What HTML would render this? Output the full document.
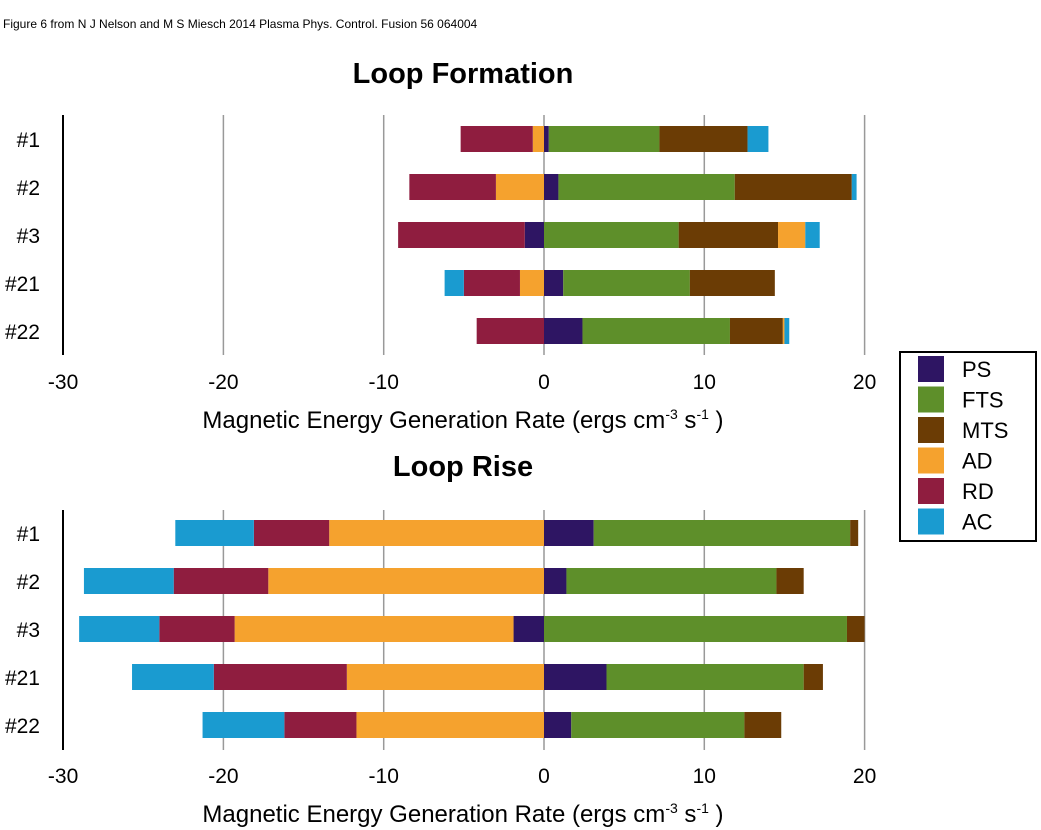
<!DOCTYPE html>
<html><head><meta charset="utf-8"><style>
body{margin:0;background:#fff;width:1041px;height:830px;overflow:hidden;font-family:"Liberation Sans",sans-serif}
</style></head><body>
<svg id="c" width="1041" height="830" style="position:absolute;left:0;top:0"></svg>
<script>
const rows=["#1","#2","#3","#21","#22"];
const series=["PS","FTS","MTS","AD","RD","AC"];
const colors=["#2e1563","#5e8f2a","#6b3c05","#f5a22e","#8f1d3f","#1a9bd0"];
const ticks=[-30,-20,-10,0,10,20];
// values per series per row (Loop Formation)
const formPS=[0.3,0.9,-1.2,1.2,2.4];
const formFTS=[6.9,11.0,8.4,7.9,9.2];
const formMTS=[5.5,7.3,6.2,5.3,3.3];
const formAD=[-0.7,-3.0,1.7,-1.5,0.1];
const formRD=[-4.5,-5.4,-7.9,-3.5,-4.2];
const formAC=[1.3,0.3,0.9,-1.2,0.3];
// Loop Rise
const risePS=[3.1,1.4,-1.9,3.9,1.7];
const riseFTS=[16.0,13.1,18.9,12.3,10.8];
const riseMTS=[0.5,1.7,1.1,1.2,2.3];
const riseAD=[-13.4,-17.2,-17.4,-12.3,-11.7];
const riseRD=[-4.7,-5.9,-4.7,-8.3,-4.5];
const riseAC=[-4.9,-5.6,-5.0,-5.1,-5.1];

const svg=document.getElementById('c');
const NS="http://www.w3.org/2000/svg";
function mk(t,a,p){const e=document.createElementNS(NS,t);for(const k in a)e.setAttribute(k,a[k]);(p||svg).appendChild(e);return e;}
const X=v=>544+(v)*16.03;
mk('text',{x:3,y:28,'font-size':12,fill:'#000'}).textContent="Figure 6 from N J Nelson and M S Miesch 2014 Plasma Phys. Control. Fusion 56 064004";

function panel(name,title,titleY,y0,data,axTop,axBot,tickY,labY){
  const g=mk('g',{});
  
  
  const t=mk('text',{x:463,y:titleY,'text-anchor':'middle','font-size':29,'font-weight':'bold'},g);
  t.textContent=title;
  
  
  ticks.forEach(v=>{
    if(v>-30){const l=mk('line',{x1:X(v),x2:X(v),y1:axTop,y2:axBot,stroke:'#999','stroke-width':1.5},g);
      
      }
    const tl=mk('text',{x:X(v),y:tickY,'text-anchor':'middle','font-size':21},g);
    tl.textContent=v;
    
    
  });
  const ax=mk('line',{x1:63,x2:63,y1:axTop,y2:axBot,stroke:'#000','stroke-width':2},g);
  
  
  rows.forEach((r,i)=>{
    const cy=y0+i*48;
    const rl=mk('text',{x:40,y:cy+8,'text-anchor':'end','font-size':21},g);
    rl.textContent=r;
    
    
    let pos=0,neg=0;
    data.forEach((arr,s)=>{
      const v=arr[i];let a,b;
      if(v>=0){a=pos;b=pos+v;pos=b;}else{a=neg+v;b=neg;neg=a;}
      const rc=mk('rect',{x:X(a),y:cy-13,width:Math.max(0,X(b)-X(a)),height:26,fill:colors[s]},g);
      
      
    });
  });
  const at=mk('text',{x:463,y:labY,'text-anchor':'middle','font-size':24},g);
  at.innerHTML='Magnetic Energy Generation Rate (ergs cm<tspan dy="-9" font-size="14">-3</tspan><tspan dy="9"> s</tspan><tspan dy="-9" font-size="14">-1</tspan><tspan dy="9"> )</tspan>';
  
  
}
panel('loop-formation','Loop Formation',83,139,[formPS,formFTS,formMTS,formAD,formRD,formAC],115,355,389,428);
panel('loop-rise','Loop Rise',476,533,[risePS,riseFTS,riseMTS,riseAD,riseRD,riseAC],510,750,783,822);

const lg=mk('g',{});


mk('rect',{x:900,y:352,width:136,height:189,fill:'#fff',stroke:'#000','stroke-width':2},lg);
series.forEach((s,i)=>{
  const y=356+i*30.5;
  const sw=mk('rect',{x:918,y:y,width:26,height:26,fill:colors[i]},lg);
  
  
  const tx=mk('text',{x:962,y:y+21,'font-size':22},lg);
  tx.textContent=s;
  
  
});
</script>
</body></html>
